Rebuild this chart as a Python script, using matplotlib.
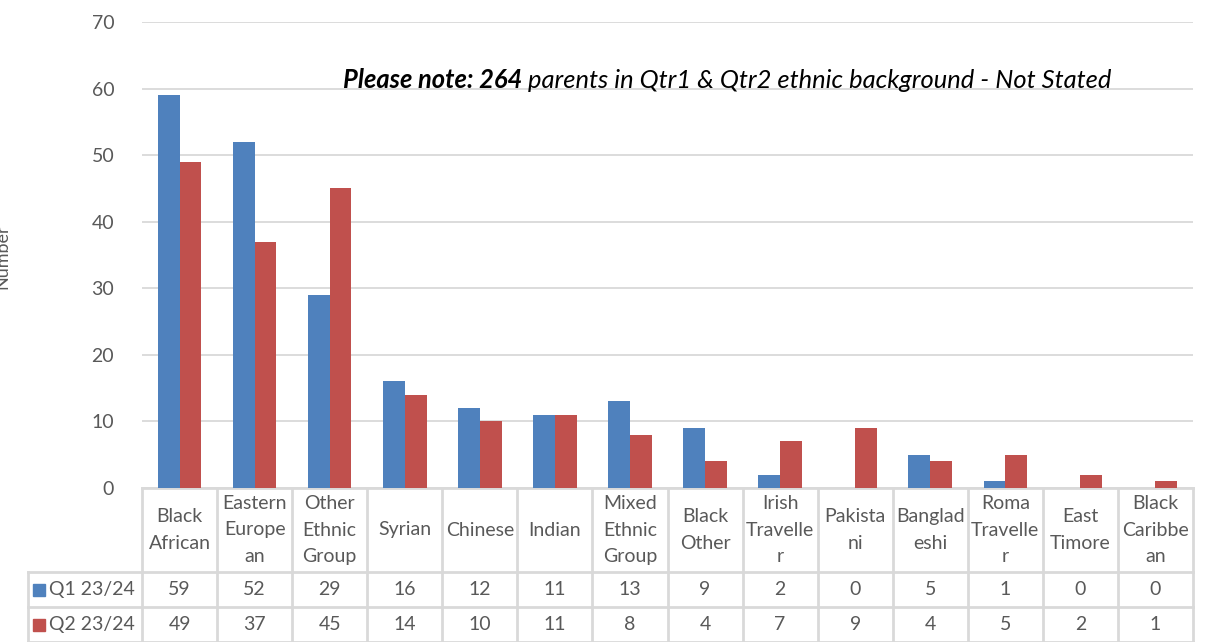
import matplotlib.pyplot as plt
import matplotlib.transforms as mtransforms
import numpy as np

# categories and series values
categories = ["Black\nAfrican", "Eastern\nEurope\nan", "Other\nEthnic\nGroup", "Syrian", "Chinese",
              "Indian", "Mixed\nEthnic\nGroup", "Black\nOther", "Irish\nTravelle\nr", "Pakista\nni",
              "Banglad\neshi", "Roma\nTravelle\nr", "East\nTimore", "Black\nCaribbe\nan"]
q1 = [59, 52, 29, 16, 12, 11, 13, 9, 2, 0, 5, 1, 0, 0]
q2 = [49, 37, 45, 14, 10, 11, 8, 4, 7, 9, 4, 5, 2, 1]
series_names = ["Q1 23/24", "Q2 23/24"]
colors = ["#4F81BD", "#C0504D"]

plt.rcParams['font.family'] = ['Lato', 'DejaVu Sans']
txt_col = "#595959"
grid_col = "#D9D9D9"

fig = plt.figure(figsize=(12.11, 6.42), dpi=100)
ax = fig.add_axes([142 / 1211, 1 - 488 / 642, (1193 - 142) / 1211, (488 - 22) / 642])

x = np.arange(len(categories))
w = 0.29
ax.bar(x - w / 2, q1, w, color=colors[0], zorder=3)
ax.bar(x + w / 2, q2, w, color=colors[1], zorder=3)

ax.set_xlim(-0.5, len(categories) - 0.5)
ax.set_ylim(0, 70)
ax.set_yticks(range(0, 71, 10))
ax.tick_params(axis='y', length=0, labelsize=14, labelcolor=txt_col, pad=20)
ax.set_xticks([])
ax.grid(axis='y', color=grid_col, lw=1.3, zorder=0)
for s in ax.spines.values():
    s.set_visible(False)

fig.text(10 / 1211, 1 - 257 / 642, "Number", rotation=90, ha='right', va='center',
         fontsize=13, color=txt_col)

# data table below the plot
tr = mtransforms.blended_transform_factory(ax.transData, ax.transAxes)
h = 466.0
y_hdr = -84 / h
y_r1 = -119 / h
y_r2 = -154 / h
left_legend = -0.5 - 114 / 75.07
n = len(categories)
lkw = dict(color=grid_col, lw=2, transform=tr, clip_on=False, zorder=1)
ax.plot([-0.5, n - 0.5], [0, 0], **lkw)
ax.plot([left_legend, n - 0.5], [y_hdr, y_hdr], **lkw)
ax.plot([left_legend, n - 0.5], [y_r1, y_r1], **lkw)
ax.plot([left_legend, n - 0.5], [y_r2, y_r2], **lkw)
for b in np.arange(n + 1) - 0.5:
    ax.plot([b, b], [0, y_r2], **lkw)
ax.plot([left_legend, left_legend], [y_hdr, y_r2], **lkw)

for i, c in enumerate(categories):
    ax.text(i, y_hdr / 2, c, transform=tr, ha='center', va='center', fontsize=14,
            color=txt_col, linespacing=1.65)
    ax.text(i, (y_hdr + y_r1) / 2, str(q1[i]), transform=tr, ha='center', va='center',
            fontsize=14, color=txt_col)
    ax.text(i, (y_r1 + y_r2) / 2, str(q2[i]), transform=tr, ha='center', va='center',
            fontsize=14, color=txt_col)

for k, (name, col) in enumerate(zip(series_names, colors)):
    yc = (y_hdr + y_r1) / 2 if k == 0 else (y_r1 + y_r2) / 2
    ax.plot([left_legend + 0.15], [yc], marker='s', ms=9, color=col, transform=tr,
            clip_on=False, linestyle='none')
    ax.text(left_legend + 0.28, yc, name, transform=tr, ha='left', va='center',
            fontsize=14, color=txt_col)

# note text
t1 = ax.text(343 / 1211, 1 - 88 / 642, "Please note: 264", transform=fig.transFigure,
             fontsize=18.4, fontweight='bold', style='italic', color='black', va='baseline')
ax.annotate(" parents in Qtr1 & Qtr2 ethnic background - Not Stated", xy=(1, 0),
            xycoords=t1, va='bottom', ha='left', fontsize=18.4, style='italic', color='black')

fig.savefig("out.png", dpi=100)
